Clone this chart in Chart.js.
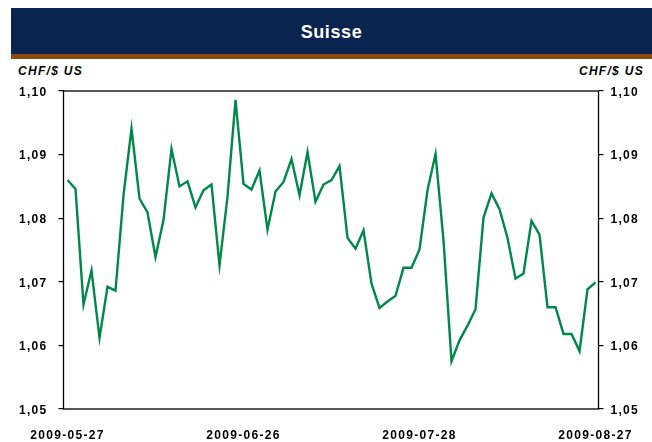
<!DOCTYPE html>
<html>
<head>
<meta charset="utf-8">
<script src="https://cdn.jsdelivr.net/npm/chart.js@4.4.1/dist/chart.umd.min.js"></script>
<style>
  html, body { margin: 0; padding: 0; background: #fff; }
  #wrap { position: relative; width: 652px; height: 442px; overflow: hidden; }
  #bar { position: absolute; left: 11px; top: 8px; width: 641px; height: 46px; background: #0a2450;
         border-bottom: 5px solid #8c4a0c; color: #fff; font: bold 18px "Liberation Sans", Arial, sans-serif;
         letter-spacing: 0.6px; text-align: center; line-height: 48px; }
  .unit { position: absolute; top: 64px; font: italic bold 12px "Liberation Sans", Arial, sans-serif; letter-spacing: 1.3px; color: #000; }
  #uL { left: 18px; }
  #uR { right: 8px; }
  canvas { position: absolute; left: 0; top: 0; }
</style>
</head>
<body>
<div id="wrap">
  <div id="bar">Suisse</div>
  <div class="unit" id="uL">CHF/$ US</div>
  <div class="unit" id="uR">CHF/$ US</div>
  <canvas id="c" width="652" height="442"></canvas>
</div>
<script>
// Series: CHF per US$, business days 2009-05-27 .. 2009-08-27
const rates = [
  1.0860, 1.0846, 1.0664, 1.0718, 1.0612, 1.0692, 1.0686, 1.0836, 1.0941, 1.0831,
  1.0809, 1.0739, 1.0797, 1.0909, 1.0850, 1.0858, 1.0817, 1.0844, 1.0853, 1.0726,
  1.0834, 1.0986, 1.0854, 1.0845, 1.0875, 1.0782, 1.0842, 1.0857, 1.0893, 1.0836,
  1.0904, 1.0826, 1.0853, 1.0860, 1.0882, 1.0769, 1.0752, 1.0781, 1.0697, 1.0659,
  1.0669, 1.0678, 1.0722, 1.0722, 1.0751, 1.0844, 1.0901, 1.0765, 1.0575, 1.0608,
  1.0631, 1.0657, 1.0801, 1.0839, 1.0814, 1.0769, 1.0705, 1.0713, 1.0796, 1.0774,
  1.0660, 1.0660, 1.0618, 1.0618, 1.0591, 1.0688, 1.0699
];
const xTickLabels = ['2009-05-27', '2009-06-26', '2009-07-28', '2009-08-27'];
const xTickIndex = [0, 22, 44, 66];
const yMin = 1.05, yMax = 1.10, yStep = 0.01;

const points = rates.map((v, i) => ({ x: i, y: v }));
const FONT = { family: '"Liberation Sans", Arial, sans-serif', size: 12, weight: 'bold' };
const fmt = v => Number(v).toFixed(2).replace('.', ',');

const spacingPlugin = {
  id: 'spacing',
  beforeUpdate(chart) { chart.ctx.letterSpacing = '1.3px'; },
  beforeDraw(chart) { chart.ctx.letterSpacing = '1.3px'; }
};
const boxPlugin = {
  id: 'box',
  afterDatasetsDraw(chart) {
    const { ctx, chartArea: a } = chart;
    ctx.save();
    ctx.strokeStyle = '#000';
    ctx.lineWidth = 1.3;
    ctx.strokeRect(a.left, a.top, a.right - a.left, a.bottom - a.top);
    ctx.restore();
  }
};

new Chart(document.getElementById('c'), {
  type: 'line',
  data: {
    datasets: [{
      data: points,
      borderColor: '#00884a',
      borderWidth: 2.4,
      pointRadius: 0,
      tension: 0,
      fill: false,
      yAxisID: 'y'
    }]
  },
  options: {
    responsive: false,
    animation: false,
    events: [],
    layout: { padding: { top: 91, left: 0, right: 0, bottom: 0 } },
    plugins: { legend: { display: false }, tooltip: { enabled: false }, title: { display: false } },
    scales: {
      x: {
        type: 'linear',
        min: -0.5,
        max: 66.375,
        afterBuildTicks(scale) { scale.ticks = xTickIndex.map(v => ({ value: v })); },
        afterFit(scale) { scale.height = 33; },
        grid: { display: false, drawTicks: false },
        border: { display: false },
        ticks: {
          autoSkip: false, maxRotation: 0, minRotation: 0,
          padding: 19,
          color: '#000',
          font: FONT,
          callback(v) { const k = xTickIndex.indexOf(v); return k >= 0 ? xTickLabels[k] : ''; }
        }
      },
      y: {
        position: 'left',
        min: yMin, max: yMax,
        afterFit(scale) { scale.width = 63.5; },
        grid: { drawOnChartArea: false, drawTicks: true, tickLength: 5, color: '#000', lineWidth: 1.2 },
        border: { display: false },
        ticks: { stepSize: yStep, padding: 11, labelOffset: 1.5, color: '#000', font: FONT, callback: fmt }
      },
      y2: {
        position: 'right',
        min: yMin, max: yMax,
        afterFit(scale) { scale.width = 52.5; },
        grid: { drawOnChartArea: false, drawTicks: true, tickLength: 5, color: '#000', lineWidth: 1.2 },
        border: { display: false },
        ticks: { stepSize: yStep, padding: 7, labelOffset: 1.5, color: '#000', font: FONT, callback: fmt }
      }
    }
  },
  plugins: [spacingPlugin, boxPlugin]
});
</script>
</body>
</html>
